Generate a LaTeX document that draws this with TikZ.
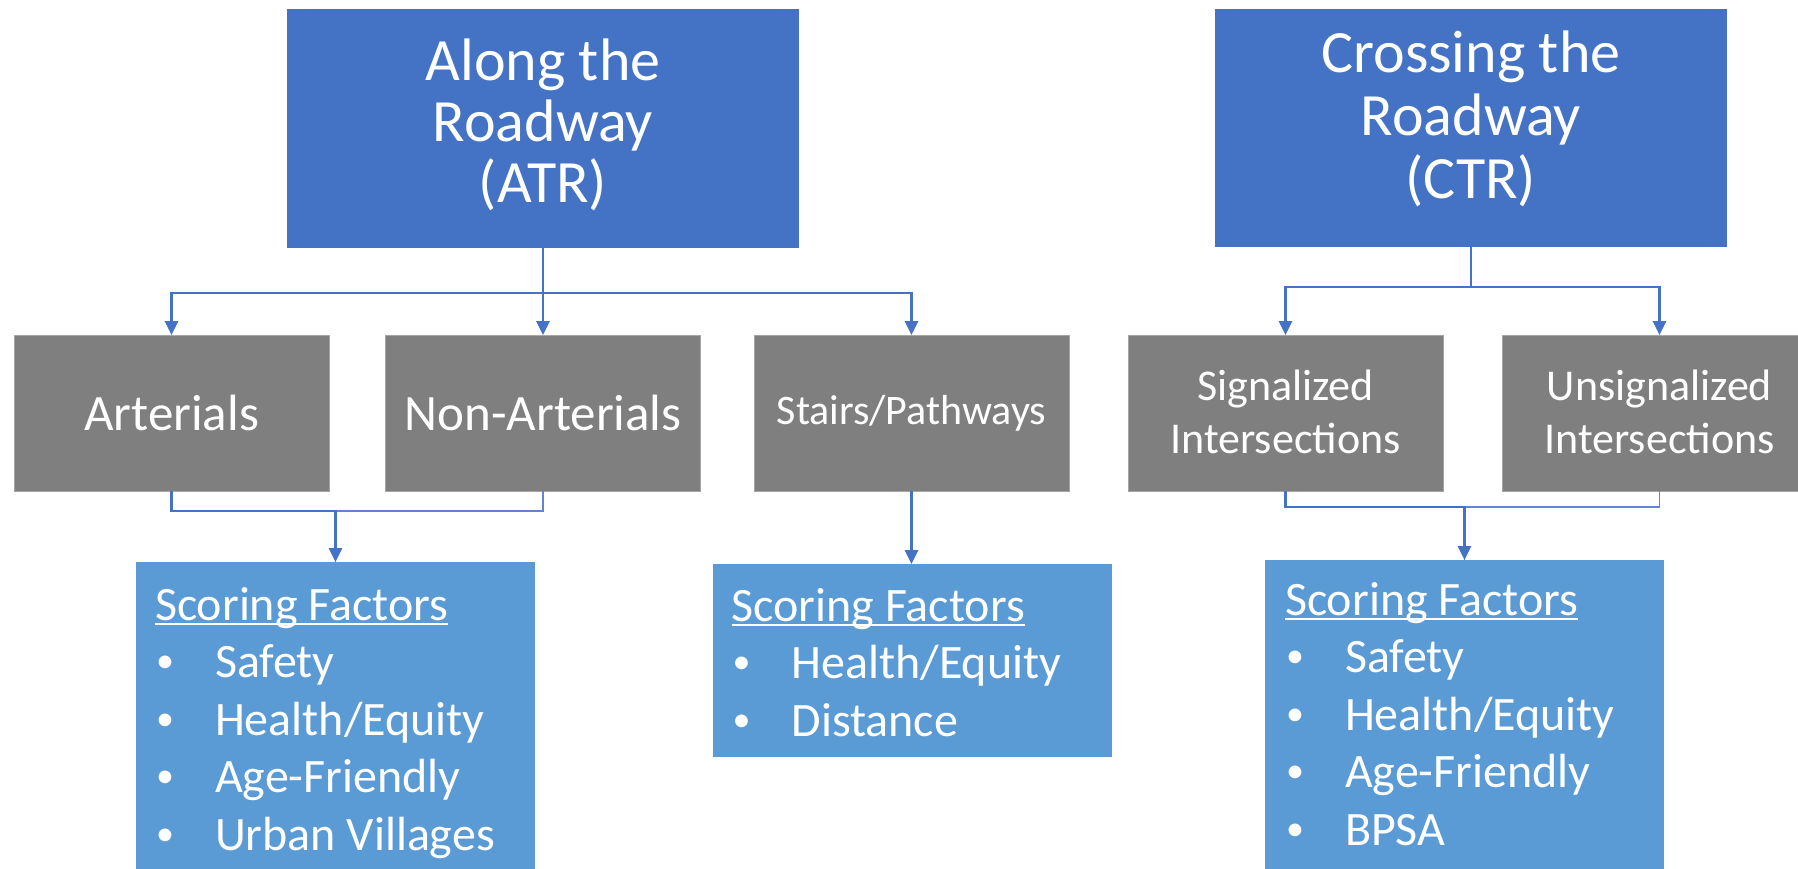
\documentclass[tikz,border=0pt]{standalone}
\usepackage{fontspec}
\setmainfont{Carlito}
\usetikzlibrary{arrows.meta}
\definecolor{accblue}{HTML}{4472C4}
\definecolor{boxgray}{HTML}{7F7F7F}
\definecolor{graybord}{HTML}{A5A5A5}
\definecolor{sfblue}{HTML}{5B9BD5}
\newcommand\sful[1]{\setbox0\hbox{#1}\rlap{\rule[-5pt]{\wd0}{2.5pt}}\box0}
\newcommand\sfitem[1]{\hspace*{1pt}\makebox[59pt][l]{\raisebox{5pt}{\fontsize{36}{36}\selectfont\textbullet}}#1}
\begin{document}
\begin{tikzpicture}[x=1pt,y=-1pt,
  topbox/.style={fill=accblue, draw=none, minimum width=512pt, minimum height=239pt, inner sep=0pt, outer sep=0pt, anchor=north west},
  toptext/.style={text=white, align=center, inner sep=0pt, font=\fontsize{60}{61}\selectfont},
  midbox/.style={fill=boxgray, draw=graybord, line width=1pt, minimum width=315pt, minimum height=156pt, inner sep=0pt, outer sep=0pt, anchor=north west, text=white, align=center},
  sfbox/.style={fill=sfblue, draw=none, minimum width=399pt, inner sep=0pt, outer sep=0pt, anchor=north west},
  sftext/.style={anchor=north west, inner sep=0pt, outer sep=0pt, text=white, align=left, font=\fontsize{48}{57.5}\selectfont},
  conn/.style={draw=accblue, line width=2.75pt, -{Triangle[length=14pt,width=13pt]}},
  thinconn/.style={draw=accblue!85, line width=1.5pt},
]
\useasboundingbox (0,0) rectangle (1798,869);
\fill[white] (0,0) rectangle (1798,869);
\node[topbox] (atr) at (287,9) {};
\node[topbox, minimum height=238pt] (ctr) at (1215,9) {};
\node[toptext, yshift=3.5pt] (atrt) at (atr.center) {Along the\\Roadway\\(ATR)};
\node[toptext, yshift=9pt, font=\fontsize{60}{63}\selectfont] (ctrt) at (ctr.center) {Crossing the\\Roadway\\(CTR)};
\node[midbox, font=\fontsize{51}{62}\selectfont] (art) at (14,335) {Arterials};
\node[midbox, font=\fontsize{51}{62}\selectfont] (nonart) at (385.5,335) {Non-Arterials};
\node[midbox, font=\fontsize{42}{51}\selectfont] (stairs) at (754,335) {Stairs/Pathways};
\node[midbox, font=\fontsize{44}{53}\selectfont, text depth=2pt] (sig) at (1128,335) {Signalized\\Intersections};
\node[midbox, font=\fontsize{44}{53}\selectfont, text depth=2pt] (unsig) at (1502,335) {Unsignalized\\Intersections};
\node[sfbox, minimum height=307pt] (sfl) at (136,562) {};
\node[sfbox, minimum height=193pt] (sfm) at (712.5,564) {};
\node[sfbox, minimum height=309pt] (sfr) at (1265,560) {};
\node[sftext, xshift=19pt, yshift=-25pt] (sflt) at (sfl.north west) {\sful{Scoring Factors}\\\sfitem{Safety}\\\sfitem{Health/Equity}\\\sfitem{Age-Friendly}\\\sfitem{Urban Villages}};
\node[sftext, xshift=19pt, yshift=-24pt] (sfmt) at (sfm.north west) {\sful{Scoring Factors}\\\sfitem{Health/Equity}\\\sfitem{Distance}};
\node[sftext, xshift=20pt, yshift=-22pt] (sfrt) at (sfr.north west) {\sful{Scoring Factors}\\\sfitem{Safety}\\\sfitem{Health/Equity}\\\sfitem{Age-Friendly}\\\sfitem{BPSA}};
\draw[conn] (atr.south) -- ++(0,45) -| (art.north);
\draw[conn] (atr.south) -- (atr.south |- nonart.north);
\draw[conn] (atr.south) -- ++(0,45) -| (stairs.north);
\draw[conn] (ctr.south) -- ++(0,40) -| (sig.north);
\draw[conn] (ctr.south) -- ++(0,40) -| (unsig.north);
\draw[thinconn] (nonart.south) -- ++(0,20) -| (sfl.north);
\draw[conn] (art.south) -- ++(0,20) -| (sfl.north);
\draw[conn] (stairs.south) -- (stairs.south |- sfm.north);
\draw[thinconn] (unsig.south) -- ++(0,16) -| (sfr.north);
\draw[conn] (sig.south) -- ++(0,16) -| (sfr.north);
\end{tikzpicture}
\end{document}
